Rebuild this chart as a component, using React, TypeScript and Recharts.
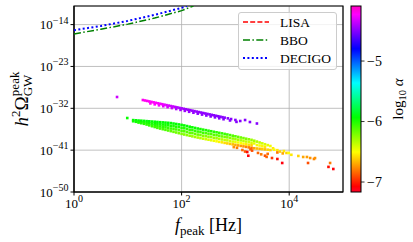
import React from 'react';
import {
  ScatterChart,
  Scatter,
  XAxis,
  YAxis,
  CartesianGrid,
  ReferenceArea,
  Legend,
} from 'recharts';

// axes are log10 of the plotted quantities
const xTicks = [0, 2, 4];
const yTicks = [-50, -41, -32, -23, -14];
const alphaTicks = [-7, -6, -5];
const ALPHA_MIN = -7.165;
const ALPHA_MAX = -4.09;

// detector sensitivity curves [log10 f, log10 h^2 Omega]
const decigoCurve = [
  [0, -15.2],
  [0.5, -14.3],
  [1.0, -13.2],
  [1.5, -11.9],
  [2.0, -10.4],
  [2.1, -10.0],
];
const bboCurve = [
  [0, -16.0],
  [0.5, -15.0],
  [1.0, -13.9],
  [1.5, -12.6],
  [2.0, -11.0],
  [2.22, -10.0],
];

const detectors = [
  { name: 'LISA', color: '#ff0000', dash: '5 2.2' },
  { name: 'BBO', color: '#008000', dash: '7 2.4 1.5 2.4' },
  { name: 'DECIGO', color: '#0000ff', dash: '2 2.4' },
];

// scan points [log10 f_peak, log10 h^2 Omega_peak, log10 alpha]
const strongPoints = [
  [0.8, -29.57, -4.34],
  [1.28, -30.22, -4.2], [1.32, -30.32, -4.2], [1.36, -30.42, -4.21], [1.4, -30.52, -4.21],
  [1.44, -30.62, -4.22], [1.48, -30.72, -4.22], [1.52, -30.82, -4.23], [1.56, -30.92, -4.24],
  [1.6, -31.02, -4.25], [1.64, -31.12, -4.26], [1.68, -31.22, -4.28], [1.72, -31.32, -4.3],
  [1.76, -31.42, -4.32], [1.8, -31.51, -4.34], [1.84, -31.61, -4.36], [1.88, -31.71, -4.38],
  [1.92, -31.81, -4.4], [1.96, -31.91, -4.42], [2.0, -32.01, -4.43], [2.04, -32.11, -4.44],
  [2.08, -32.21, -4.45], [2.12, -32.31, -4.45], [2.16, -32.41, -4.46], [2.2, -32.51, -4.46],
  [2.24, -32.61, -4.47], [2.28, -32.71, -4.47], [2.32, -32.81, -4.47], [2.36, -32.91, -4.48],
  [2.4, -33.01, -4.48], [2.44, -33.11, -4.48], [2.48, -33.21, -4.48], [2.52, -33.31, -4.49],
  [2.56, -33.41, -4.49], [2.6, -33.51, -4.49], [2.64, -33.61, -4.49], [2.68, -33.71, -4.5],
  [2.72, -33.81, -4.5], [2.76, -33.91, -4.5], [2.8, -34.01, -4.5], [2.86, -34.16, -4.5],
  [2.92, -34.31, -4.5], [3.0, -34.51, -4.5], [3.09, -34.73, -4.5], [3.18, -34.52, -4.5],
  [3.27, -34.95, -4.5], [3.4, -35.27, -4.5],
  [1.42, -30.95, -4.22], [1.5, -31.15, -4.23], [1.58, -31.36, -4.25], [1.66, -31.55, -4.28],
  [1.74, -31.75, -4.32], [1.82, -31.95, -4.36], [1.9, -32.15, -4.4], [1.98, -32.35, -4.43],
  [2.06, -32.55, -4.45], [2.14, -32.75, -4.46], [2.22, -32.95, -4.47], [2.3, -33.15, -4.48],
  [2.38, -33.35, -4.48], [2.46, -33.55, -4.49], [2.54, -33.75, -4.49], [2.62, -33.95, -4.5],
  [2.7, -34.15, -4.5], [2.78, -34.35, -4.5], [2.9, -34.62, -4.5], [3.02, -34.92, -4.5],
];

const weakPoints = [
  [0.99, -34.09, -5.95],
  [1.1, -34.54, -5.92], [1.1, -34.78, -5.96], [1.15, -34.58, -5.92], [1.15, -34.9, -5.97],
  [1.2, -34.63, -5.91], [1.2, -34.86, -5.95], [1.2, -35.07, -5.99],
  [1.25, -34.67, -5.93], [1.25, -34.95, -5.96], [1.25, -35.2, -6.0],
  [1.3, -34.71, -5.92], [1.3, -35.02, -5.97], [1.3, -35.33, -6.02],
  [1.35, -34.76, -5.91], [1.35, -35.12, -5.98], [1.35, -35.49, -6.03],
  [1.4, -34.8, -5.92], [1.4, -35.22, -5.97], [1.4, -35.67, -6.04],
  [1.45, -34.85, -5.93], [1.45, -35.3, -5.98], [1.45, -35.85, -6.05],
  [1.5, -34.89, -5.92], [1.5, -35.28, -5.96], [1.5, -35.65, -6.0], [1.5, -36.02, -6.06],
  [1.55, -34.94, -5.91], [1.55, -35.35, -5.97], [1.55, -35.8, -6.02], [1.55, -36.2, -6.07],
  [1.6, -34.99, -5.93], [1.6, -35.45, -5.98], [1.6, -35.9, -6.02], [1.6, -36.35, -6.08],
  [1.65, -35.03, -5.92], [1.65, -35.5, -5.97], [1.65, -36.0, -6.03], [1.65, -36.49, -6.09],
  [1.7, -35.08, -5.93], [1.7, -35.6, -5.98], [1.7, -36.1, -6.04], [1.7, -36.63, -6.1],
  [1.75, -35.12, -5.92], [1.75, -35.65, -5.98], [1.75, -36.2, -6.05], [1.75, -36.77, -6.12],
  [1.8, -35.18, -5.93], [1.8, -35.75, -5.99], [1.8, -36.35, -6.06], [1.8, -36.91, -6.14],
  [1.85, -35.28, -5.93], [1.85, -35.85, -6.0], [1.85, -36.45, -6.08], [1.85, -37.06, -6.17],
  [1.9, -35.37, -5.94], [1.9, -35.95, -6.0], [1.9, -36.55, -6.09], [1.9, -37.2, -6.19],
  [1.95, -35.47, -5.93], [1.95, -36.05, -6.01], [1.95, -36.7, -6.1], [1.95, -37.35, -6.2],
  [2.0, -35.57, -5.94], [2.0, -36.2, -6.02], [2.0, -36.85, -6.11], [2.0, -37.5, -6.22],
  [2.05, -35.69, -5.94], [2.05, -36.3, -6.02], [2.05, -36.95, -6.12], [2.05, -37.63, -6.23],
  [2.1, -35.82, -5.95], [2.1, -36.45, -6.03], [2.1, -37.1, -6.13], [2.1, -37.76, -6.25],
  [2.15, -35.96, -5.95], [2.15, -36.6, -6.04], [2.15, -37.25, -6.14], [2.15, -37.9, -6.26],
  [2.2, -36.09, -5.96], [2.2, -36.7, -6.04], [2.2, -37.35, -6.15], [2.2, -38.03, -6.28],
  [2.25, -36.22, -5.96], [2.25, -36.85, -6.05], [2.25, -37.5, -6.16], [2.25, -38.16, -6.3],
  [2.3, -36.35, -5.97], [2.3, -37.0, -6.06], [2.3, -37.65, -6.18], [2.3, -38.29, -6.32],
  [2.35, -36.47, -5.98], [2.35, -37.1, -6.07], [2.35, -37.75, -6.2], [2.35, -38.41, -6.35],
  [2.4, -36.59, -5.99], [2.4, -37.25, -6.08], [2.4, -37.9, -6.22], [2.4, -38.53, -6.37],
  [2.45, -36.7, -6.0], [2.45, -37.35, -6.1], [2.45, -38.0, -6.24], [2.45, -38.64, -6.4],
  [2.5, -36.82, -6.0], [2.5, -37.45, -6.11], [2.5, -38.1, -6.25], [2.5, -38.75, -6.42],
  [2.55, -36.93, -6.01], [2.55, -37.55, -6.12], [2.55, -38.2, -6.27], [2.55, -38.87, -6.45],
  [2.6, -37.05, -6.02], [2.6, -37.7, -6.13], [2.6, -38.35, -6.28], [2.6, -38.98, -6.47],
  [2.65, -37.16, -6.03], [2.65, -37.8, -6.15], [2.65, -38.45, -6.3], [2.65, -39.1, -6.5],
  [2.7, -37.28, -6.04], [2.7, -37.9, -6.16], [2.7, -38.55, -6.32], [2.7, -39.21, -6.52],
  [2.75, -37.39, -6.05], [2.75, -38.05, -6.18], [2.75, -38.7, -6.34], [2.75, -39.32, -6.55],
  [2.8, -37.51, -6.06], [2.8, -38.15, -6.2], [2.8, -38.8, -6.36], [2.8, -39.44, -6.58],
  [2.85, -37.63, -6.08], [2.85, -38.25, -6.22], [2.85, -38.9, -6.38], [2.85, -39.55, -6.6],
  [2.9, -37.76, -6.1], [2.9, -38.4, -6.24], [2.9, -39.05, -6.4], [2.9, -39.65, -6.62],
  [2.95, -37.89, -6.12], [2.95, -38.5, -6.26], [2.95, -39.15, -6.42], [2.95, -39.76, -6.65],
  [3.0, -38.02, -6.14], [3.0, -38.65, -6.28], [3.0, -39.25, -6.45], [3.0, -39.87, -6.68],
  [3.05, -38.15, -6.16], [3.05, -38.75, -6.3], [3.05, -39.35, -6.48], [3.05, -39.98, -6.7],
  [3.1, -38.28, -6.18], [3.1, -38.9, -6.32], [3.1, -39.5, -6.5], [3.1, -40.09, -6.73],
  [3.15, -38.41, -6.2], [3.15, -39.0, -6.35], [3.15, -39.6, -6.52], [3.15, -40.19, -6.75],
  [3.2, -38.54, -6.22], [3.2, -39.15, -6.37], [3.2, -39.75, -6.55], [3.2, -40.3, -6.78],
  [3.25, -38.67, -6.25], [3.25, -39.25, -6.4], [3.25, -39.85, -6.58], [3.25, -40.41, -6.8],
  [3.3, -38.79, -6.28], [3.3, -39.4, -6.42], [3.3, -39.95, -6.6], [3.3, -40.52, -6.82],
  [3.35, -38.97, -6.3], [3.35, -39.55, -6.45], [3.35, -40.59, -6.7],
  [3.4, -39.16, -6.33], [3.4, -39.9, -6.48], [3.4, -40.65, -6.65],
  [3.45, -39.35, -6.36], [3.45, -40.0, -6.5], [3.45, -40.71, -6.66],
  [3.5, -39.54, -6.4], [3.5, -40.15, -6.52], [3.5, -40.78, -6.62],
  [3.55, -39.73, -6.42], [3.55, -40.3, -6.55], [3.55, -40.84, -6.64],
  [3.6, -39.92, -6.45], [3.6, -40.9, -6.6], [3.65, -40.11, -6.48], [3.65, -40.97, -6.6],
  // sparse tail at high frequency
  [2.97, -40.35, -6.75], [3.03, -40.5, -6.8], [3.13, -40.97, -6.85], [3.18, -41.3, -6.88],
  [3.22, -41.4, -7.05], [3.24, -42.2, -7.1], [3.28, -40.8, -6.85], [3.31, -41.1, -6.9],
  [3.42, -41.6, -6.85], [3.48, -41.9, -6.8], [3.55, -42.2, -6.9], [3.6, -41.8, -6.82],
  [3.7, -40.6, -6.55], [3.72, -40.9, -6.5], [3.78, -41.0, -6.55], [3.83, -41.3, -6.6],
  [3.9, -41.2, -6.55], [3.95, -41.6, -6.6], [3.88, -41.7, -6.7], [3.99, -41.6, -6.5],
  [4.04, -42.0, -6.55], [4.17, -42.25, -6.6], [4.26, -42.47, -6.7], [4.33, -42.47, -6.72],
  [4.39, -42.69, -6.75], [4.46, -42.9, -6.78], [4.48, -42.7, -6.75], [4.35, -43.76, -6.9],
  [4.76, -43.76, -6.8], [4.73, -44.6, -7.05], [4.82, -45.05, -7.1], [3.58, -42.45, -6.85],
  [3.68, -42.69, -6.95], [3.78, -42.9, -7.05], [3.87, -43.76, -7.1], [3.78, -41.5, -6.8],
];

// matplotlib gist_rainbow
const RAINBOW = [
  [0.0, 1, 0, 0.16],
  [0.03, 1, 0, 0],
  [0.215, 1, 1, 0],
  [0.4, 0, 1, 0],
  [0.586, 0, 1, 1],
  [0.77, 0, 0, 1],
  [0.954, 1, 0, 1],
  [1.0, 1, 0, 0.75],
];

function rgb(r: number, g: number, b: number) {
  return `rgb(${Math.round(r * 255)},${Math.round(g * 255)},${Math.round(b * 255)})`;
}

function alphaColor(a: number) {
  const t = Math.min(1, Math.max(0, (a - ALPHA_MIN) / (ALPHA_MAX - ALPHA_MIN)));
  for (let i = 1; i < RAINBOW.length; i++) {
    const p = RAINBOW[i - 1];
    const q = RAINBOW[i];
    if (t <= q[0]) {
      const u = (t - p[0]) / (q[0] - p[0]);
      return rgb(p[1] + (q[1] - p[1]) * u, p[2] + (q[2] - p[2]) * u, p[3] + (q[3] - p[3]) * u);
    }
  }
  return rgb(1, 0, 0.75);
}

const toCurve = (arr: number[][]) => arr.map(([f, o]) => ({ f, o }));
const toPoints = (arr: number[][]) => arr.map(([f, o, a]) => ({ f, o, a }));

const SERIF = '"Liberation Serif", "DejaVu Serif", serif';
const MINUS = '\u2212';

function fmtExp(v: number) {
  return v < 0 ? MINUS + Math.abs(v) : String(v);
}

function XTick({ x, y, payload }: any) {
  return (
    <text x={x} y={y + 10} textAnchor="middle" fontSize={13} fill="#000">
      <tspan>10</tspan>
      <tspan dy={-5.5} fontSize={10}>{fmtExp(payload.value)}</tspan>
    </text>
  );
}

function YTick({ x, y, payload }: any) {
  return (
    <text x={x} y={y + 4.5} textAnchor="end" fontSize={13} fill="#000">
      <tspan>10</tspan>
      <tspan dy={-5.5} fontSize={10}>{fmtExp(payload.value)}</tspan>
    </text>
  );
}

function Dot({ cx, cy, payload }: any) {
  return <rect x={cx - 1.3} y={cy - 1.3} width={2.6} height={2.6} fill={alphaColor(payload.a)} />;
}

function XLabel({ viewBox }: any) {
  const cx = viewBox.x + viewBox.width / 2;
  return (
    <text x={cx} y={viewBox.y + 39} textAnchor="middle" fontSize={18} fill="#000">
      <tspan fontStyle="italic">f</tspan>
      <tspan fontSize={13} dy={4}>peak</tspan>
      <tspan dy={-4}> [Hz]</tspan>
    </text>
  );
}

function YLabel({ viewBox }: any) {
  const cy = viewBox.y + viewBox.height / 2;
  const bx = 28;
  return (
    <text
      x={bx}
      y={cy}
      transform={`rotate(-90, ${bx}, ${cy})`}
      textAnchor="middle"
      fontSize={19}
      fill="#000"
    >
      <tspan fontStyle="italic">h</tspan>
      <tspan fontSize={13} dy={-8}>2</tspan>
      <tspan dy={8}>Ω</tspan>
      <tspan fontSize={13} dy={4}>GW</tspan>
      <tspan fontSize={13} dx={-21.5} dy={-13}>peak</tspan>
    </text>
  );
}

function LegendBox() {
  return (
    <div
      style={{
        width: 99,
        height: 58,
        boxSizing: 'border-box',
        border: '1px solid #cccccc',
        borderRadius: 3,
        background: 'rgba(255,255,255,0.8)',
        fontFamily: SERIF,
      }}
    >
      <svg width={97} height={56}>
        {detectors.map((d, i) => (
          <g key={d.name}>
            <line
              x1={4}
              x2={30}
              y1={9 + i * 18}
              y2={9 + i * 18}
              stroke={d.color}
              strokeWidth={d.name === 'DECIGO' ? 2 : 1.5}
              strokeDasharray={d.dash}
            />
            <text x={41} y={13.5 + i * 18} fontSize={13.5} fill="#000">
              {d.name}
            </text>
          </g>
        ))}
      </svg>
    </div>
  );
}

function ColorBar() {
  const x0 = 351;
  const w = 10;
  const top = 6;
  const h = 186;
  const yOf = (v: number) => top + ((ALPHA_MAX - v) / (ALPHA_MAX - ALPHA_MIN)) * h;
  return (
    <svg
      width={413}
      height={242}
      style={{ position: 'absolute', left: 0, top: 0, pointerEvents: 'none', fontFamily: SERIF }}
    >
      <defs>
        <linearGradient id="cb" x1="0" y1="1" x2="0" y2="0">
          {RAINBOW.map((s) => (
            <stop key={s[0]} offset={s[0]} stopColor={rgb(s[1], s[2], s[3])} />
          ))}
        </linearGradient>
      </defs>
      <rect x={x0} y={top} width={w} height={h} fill="url(#cb)" stroke="#000" strokeWidth={1} />
      {alphaTicks.map((v) => (
        <g key={v}>
          <line x1={x0 + w} x2={x0 + w + 3.5} y1={yOf(v)} y2={yOf(v)} stroke="#000" strokeWidth={0.8} />
          <text x={x0 + w + 6} y={yOf(v) + 4.5} fontSize={14} fill="#000">
            {fmtExp(v)}
          </text>
        </g>
      ))}
      <text
        x={403}
        y={99}
        transform="rotate(-90, 403, 99)"
        textAnchor="middle"
        fontSize={15}
        fill="#000"
      >
        <tspan>log</tspan>
        <tspan fontSize={10.5} dy={3}>10</tspan>
        <tspan dy={-3} fontStyle="italic"> α</tspan>
      </text>
    </svg>
  );
}

export default function App() {
  return (
    <div style={{ position: 'absolute', left: 0, top: 0, width: 413, height: 242, fontFamily: SERIF, background: '#fff' }}>
      <ScatterChart width={413} height={242} margin={{ top: 6, right: 70, bottom: 0, left: 0 }}>
        <CartesianGrid stroke="#b0b0b0" strokeWidth={0.8} />
        <XAxis
          type="number"
          dataKey="f"
          domain={[0, 5]}
          ticks={xTicks}
          allowDataOverflow
          height={50}
          tick={<XTick />}
          tickSize={3.5}
          axisLine={{ stroke: '#000' }}
          tickLine={{ stroke: '#000' }}
          label={<XLabel />}
        />
        <YAxis
          type="number"
          dataKey="o"
          domain={[-50, -10]}
          ticks={yTicks}
          allowDataOverflow
          width={74}
          tick={<YTick />}
          tickSize={3.5}
          axisLine={{ stroke: '#000' }}
          tickLine={{ stroke: '#000' }}
          label={<YLabel />}
        />
        <Scatter
          data={toCurve(bboCurve)}
          line={{ stroke: '#008000', strokeWidth: 1.5, strokeDasharray: '7 2.4 1.5 2.4' }}
          lineType="joint"
          shape={() => <g />}
          isAnimationActive={false}
        />
        <Scatter
          data={toCurve(decigoCurve)}
          line={{ stroke: '#0000ff', strokeWidth: 2, strokeDasharray: '2 2.4' }}
          lineType="joint"
          shape={() => <g />}
          isAnimationActive={false}
        />
        <Scatter data={toPoints(weakPoints)} shape={<Dot />} isAnimationActive={false} />
        <Scatter data={toPoints(strongPoints)} shape={<Dot />} isAnimationActive={false} />
        <ReferenceArea x1={0} x2={5} y1={-50} y2={-10} fill="none" stroke="#000" strokeWidth={1.2} ifOverflow="visible" />
        <Legend
          layout="horizontal"
          verticalAlign="middle"
          content={<LegendBox />}
          wrapperStyle={{ left: 238, top: 12, width: 99, height: 58 }}
        />
      </ScatterChart>
      <ColorBar />
    </div>
  );
}
